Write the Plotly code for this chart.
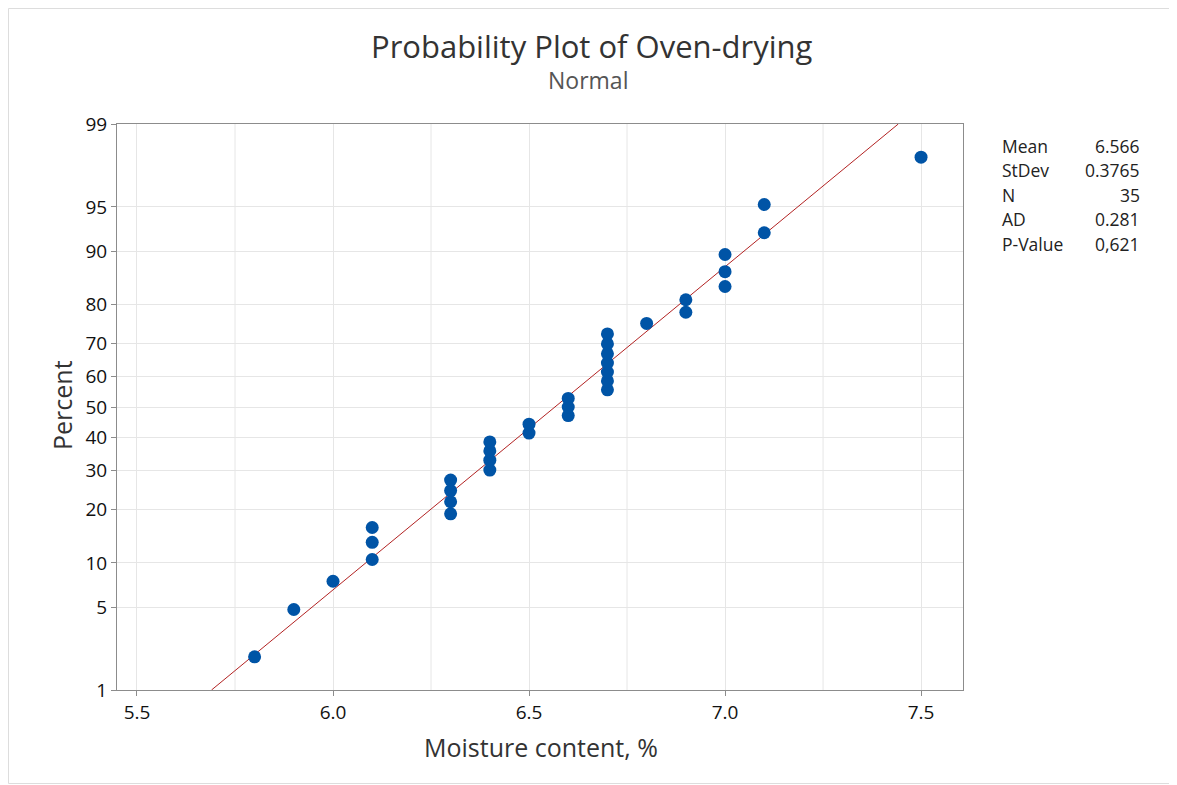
import plotly.graph_objects as go
from statistics import NormalDist

# Data
moisture = [5.8, 5.9, 6.0, 6.1, 6.1, 6.1, 6.3, 6.3, 6.3, 6.3,
            6.4, 6.4, 6.4, 6.4, 6.5, 6.5, 6.6, 6.6, 6.6,
            6.7, 6.7, 6.7, 6.7, 6.7, 6.7, 6.7, 6.8, 6.9, 6.9,
            7.0, 7.0, 7.0, 7.1, 7.1, 7.5]
percent = [2.0, 4.8, 7.6, 10.5, 13.3, 16.1, 19.0, 21.8, 24.6, 27.4,
           30.2, 33.1, 35.9, 38.7, 41.5, 44.4, 47.2, 50.0, 52.8,
           55.6, 58.5, 61.3, 64.1, 66.9, 69.8, 72.6, 75.4, 78.2, 81.1,
           83.9, 86.7, 89.5, 92.4, 95.2, 98.0]
y_ticks = [1, 5, 10, 20, 30, 40, 50, 60, 70, 80, 90, 95, 99]
x_ticks = [5.5, 6.0, 6.5, 7.0, 7.5]
x_grid = [5.75, 6.25, 6.75, 7.25]
stat_names = ["Mean", "StDev", "N", "AD", "P-Value"]
stat_values = ["6.566", "0.3765", "35", "0.281", "0,621"]
mean_val = 6.566
sd_val = 0.3765

nd = NormalDist()
z = lambda p: nd.inv_cdf(p / 100.0)

# page offset (browser body margin)
OFF = 8
W, H = 1177 - OFF, 785 - OFF
L, T = 117 - OFF, 124 - OFF
PW, PH = 846, 566
R, B = W - L - PW, H - T - PH

def px(x):
    return (x - OFF - L) / PW

def py(y):
    return 1 - (y - OFF - T) / PH

fig = go.Figure()

# fitted line
line_p = [1, 99]
fig.add_trace(go.Scatter(
    x=[mean_val + sd_val * z(p) for p in line_p],
    y=[z(p) for p in line_p],
    mode="lines", line=dict(color="#B22222", width=1), hoverinfo="skip"))

fig.add_trace(go.Scatter(
    x=moisture, y=[z(p) for p in percent], mode="markers",
    marker=dict(color="#0054A6", size=13, line=dict(width=0))))

# vertical minor grid lines
for gx in x_grid:
    fig.add_shape(type="line", xref="x", yref="paper", x0=gx, x1=gx, y0=0, y1=1,
                  line=dict(color="#E6E6E6", width=1), layer="below")

font_fam = "Open Sans, Noto Sans, sans-serif"
fig.update_layout(
    width=W, height=H,
    margin=dict(l=L, r=R, t=T, b=B),
    paper_bgcolor="white", plot_bgcolor="white",
    showlegend=False,
    font=dict(family=font_fam, color="#222"),
    xaxis=dict(range=[5.449, 7.607], tickvals=x_ticks,
               ticktext=["%.1f" % v for v in x_ticks],
               showgrid=True, gridcolor="#E6E6E6", gridwidth=1,
               showline=True, linecolor="#8C8C8C", linewidth=1, mirror=True,
               ticks="outside", ticklen=5, tickcolor="#8C8C8C",
               tickfont=dict(size=19, color="#111"), zeroline=False),
    yaxis=dict(range=[z(1), z(99)], tickvals=[z(p) for p in y_ticks],
               ticktext=[str(p) for p in y_ticks],
               showgrid=True, gridcolor="#E6E6E6", gridwidth=1,
               showline=True, linecolor="#8C8C8C", linewidth=1, mirror=True,
               ticks="outside", ticklen=5, tickcolor="#8C8C8C",
               tickfont=dict(size=19, color="#111"), zeroline=False),
)

# title and subtitle
fig.add_annotation(text="Probability Plot of Oven-drying", xref="paper", yref="paper",
                   x=px(592), y=py(46), xanchor="center", yanchor="middle",
                   showarrow=False, font=dict(size=31, color="#333", family=font_fam))
fig.add_annotation(text="Normal", xref="paper", yref="paper",
                   x=px(588), y=py(80), xanchor="center", yanchor="middle",
                   showarrow=False, font=dict(size=23, color="#555", family=font_fam))

# axis titles
fig.add_annotation(text="Moisture content, %", xref="paper", yref="paper",
                   x=px(541), y=py(747), xanchor="center", yanchor="middle",
                   showarrow=False, font=dict(size=25, color="#333", family=font_fam))
fig.add_annotation(text="Percent", xref="paper", yref="paper", textangle=-90,
                   x=px(62), y=py(405), xanchor="center", yanchor="middle",
                   showarrow=False, font=dict(size=25, color="#333", family=font_fam))

# statistics table
for i, (nm, vl) in enumerate(zip(stat_names, stat_values)):
    yp = py(146 + i * 24.4)
    fig.add_annotation(text=nm, xref="paper", yref="paper", x=px(1000), y=yp,
                       xanchor="left", yanchor="middle", showarrow=False,
                       font=dict(size=17.5, color="#222", family=font_fam))
    fig.add_annotation(text=vl, xref="paper", yref="paper", x=px(1142), y=yp,
                       xanchor="right", yanchor="middle", showarrow=False,
                       font=dict(size=17.5, color="#222", family=font_fam))

# outer light frame
fig.add_shape(type="rect", xref="paper", yref="paper",
              x0=px(8.5), x1=px(1175), y0=py(783.5), y1=py(8.5),
              line=dict(color="#DDDDDD", width=1), fillcolor="rgba(0,0,0,0)")

fig.write_html("out.html")
